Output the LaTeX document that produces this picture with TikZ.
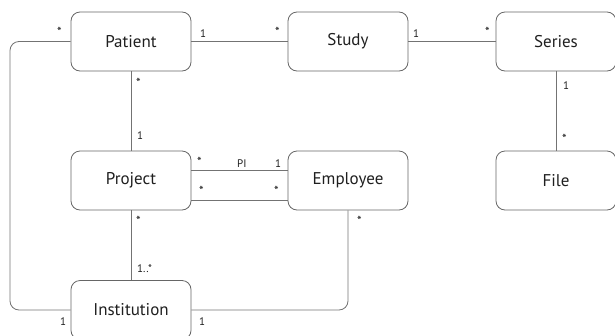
\documentclass[tikz,border=0pt]{standalone}
\usepackage{fontspec}
\setmainfont{PT Sans}
\begin{document}
\begin{tikzpicture}[x=1pt,y=-1pt,
  box/.style={draw=black!60, rounded corners=9pt, minimum width=120pt, minimum height=59pt,
    font=\fontsize{17}{19}\selectfont, text=black!88, line width=0.8pt, inner sep=0pt},
  conn/.style={draw=black!55, line width=0.8pt},
  lbl/.style={font=\fontsize{11}{13}\selectfont, inner sep=0pt, text=black!88, anchor=base west},
  ast/.style={lbl, font=\fontsize{13}{13}\selectfont}]
\useasboundingbox (0,0) rectangle (615,335);
\clip (0,0) rectangle (615,335);
\node[box] (patient) at (131,41.5) {Patient};
\node[box] (study) at (348,41.5) {Study};
\node[box] (series) at (556,41.5) {Series};
\node[box] (file) at (556,180.5) {File};
\node[box] (project) at (131,180.5) {Project};
\node[box] (employee) at (348,180.5) {Employee};
\node[box] (inst) at (131,310) {Institution};
\coordinate (lc) at (10,310);
\draw[conn] (patient) -- (study);
\draw[conn] (study) -- (series);
\draw[conn] (series.south) -- (file.north);
\draw[conn] (patient.south) -- (project.north);
\draw[conn] (project.south) -- (inst.north);
\draw[conn] ([yshift=10pt]project.east) -- ([yshift=10pt]employee.west);
\draw[conn] ([yshift=-20pt]project.east) -- ([yshift=-20pt]employee.west);
\draw[conn, rounded corners=9pt] (patient.west) -| (lc) -- (inst.west);
\draw[conn, rounded corners=9pt] (inst.east) -| (employee.south);
% labels
\node[ast] (l1) at (57,36) {*};
\node[lbl] (l2) at (200,37) {1};
\node[ast] (l3) at (275,36) {*};
\node[lbl] (l4) at (413,37) {1};
\node[ast] (l5) at (485,36) {*};
\node[ast] (l6) at (136,87) {*};
\node[lbl] (l7) at (137,139) {1};
\node[lbl] (l8) at (563,89) {1};
\node[ast] (l9) at (562,143) {*};
\node[ast] (l10) at (197,166.5) {*};
\node[lbl] (l11) at (237,167.5) {PI};
\node[lbl] (l12) at (275,167.5) {1};
\node[ast] (l13) at (199,195.5) {*};
\node[ast] (l14) at (274,195.5) {*};
\node[ast] (l15) at (136,225) {*};
\node[ast] (l16) at (357,225) {*};
\node[lbl] (l17) at (137,272) {1..*};
\node[lbl] (l18) at (60,325) {1};
\node[lbl] (l19) at (199,325) {1};
\end{tikzpicture}
\end{document}
